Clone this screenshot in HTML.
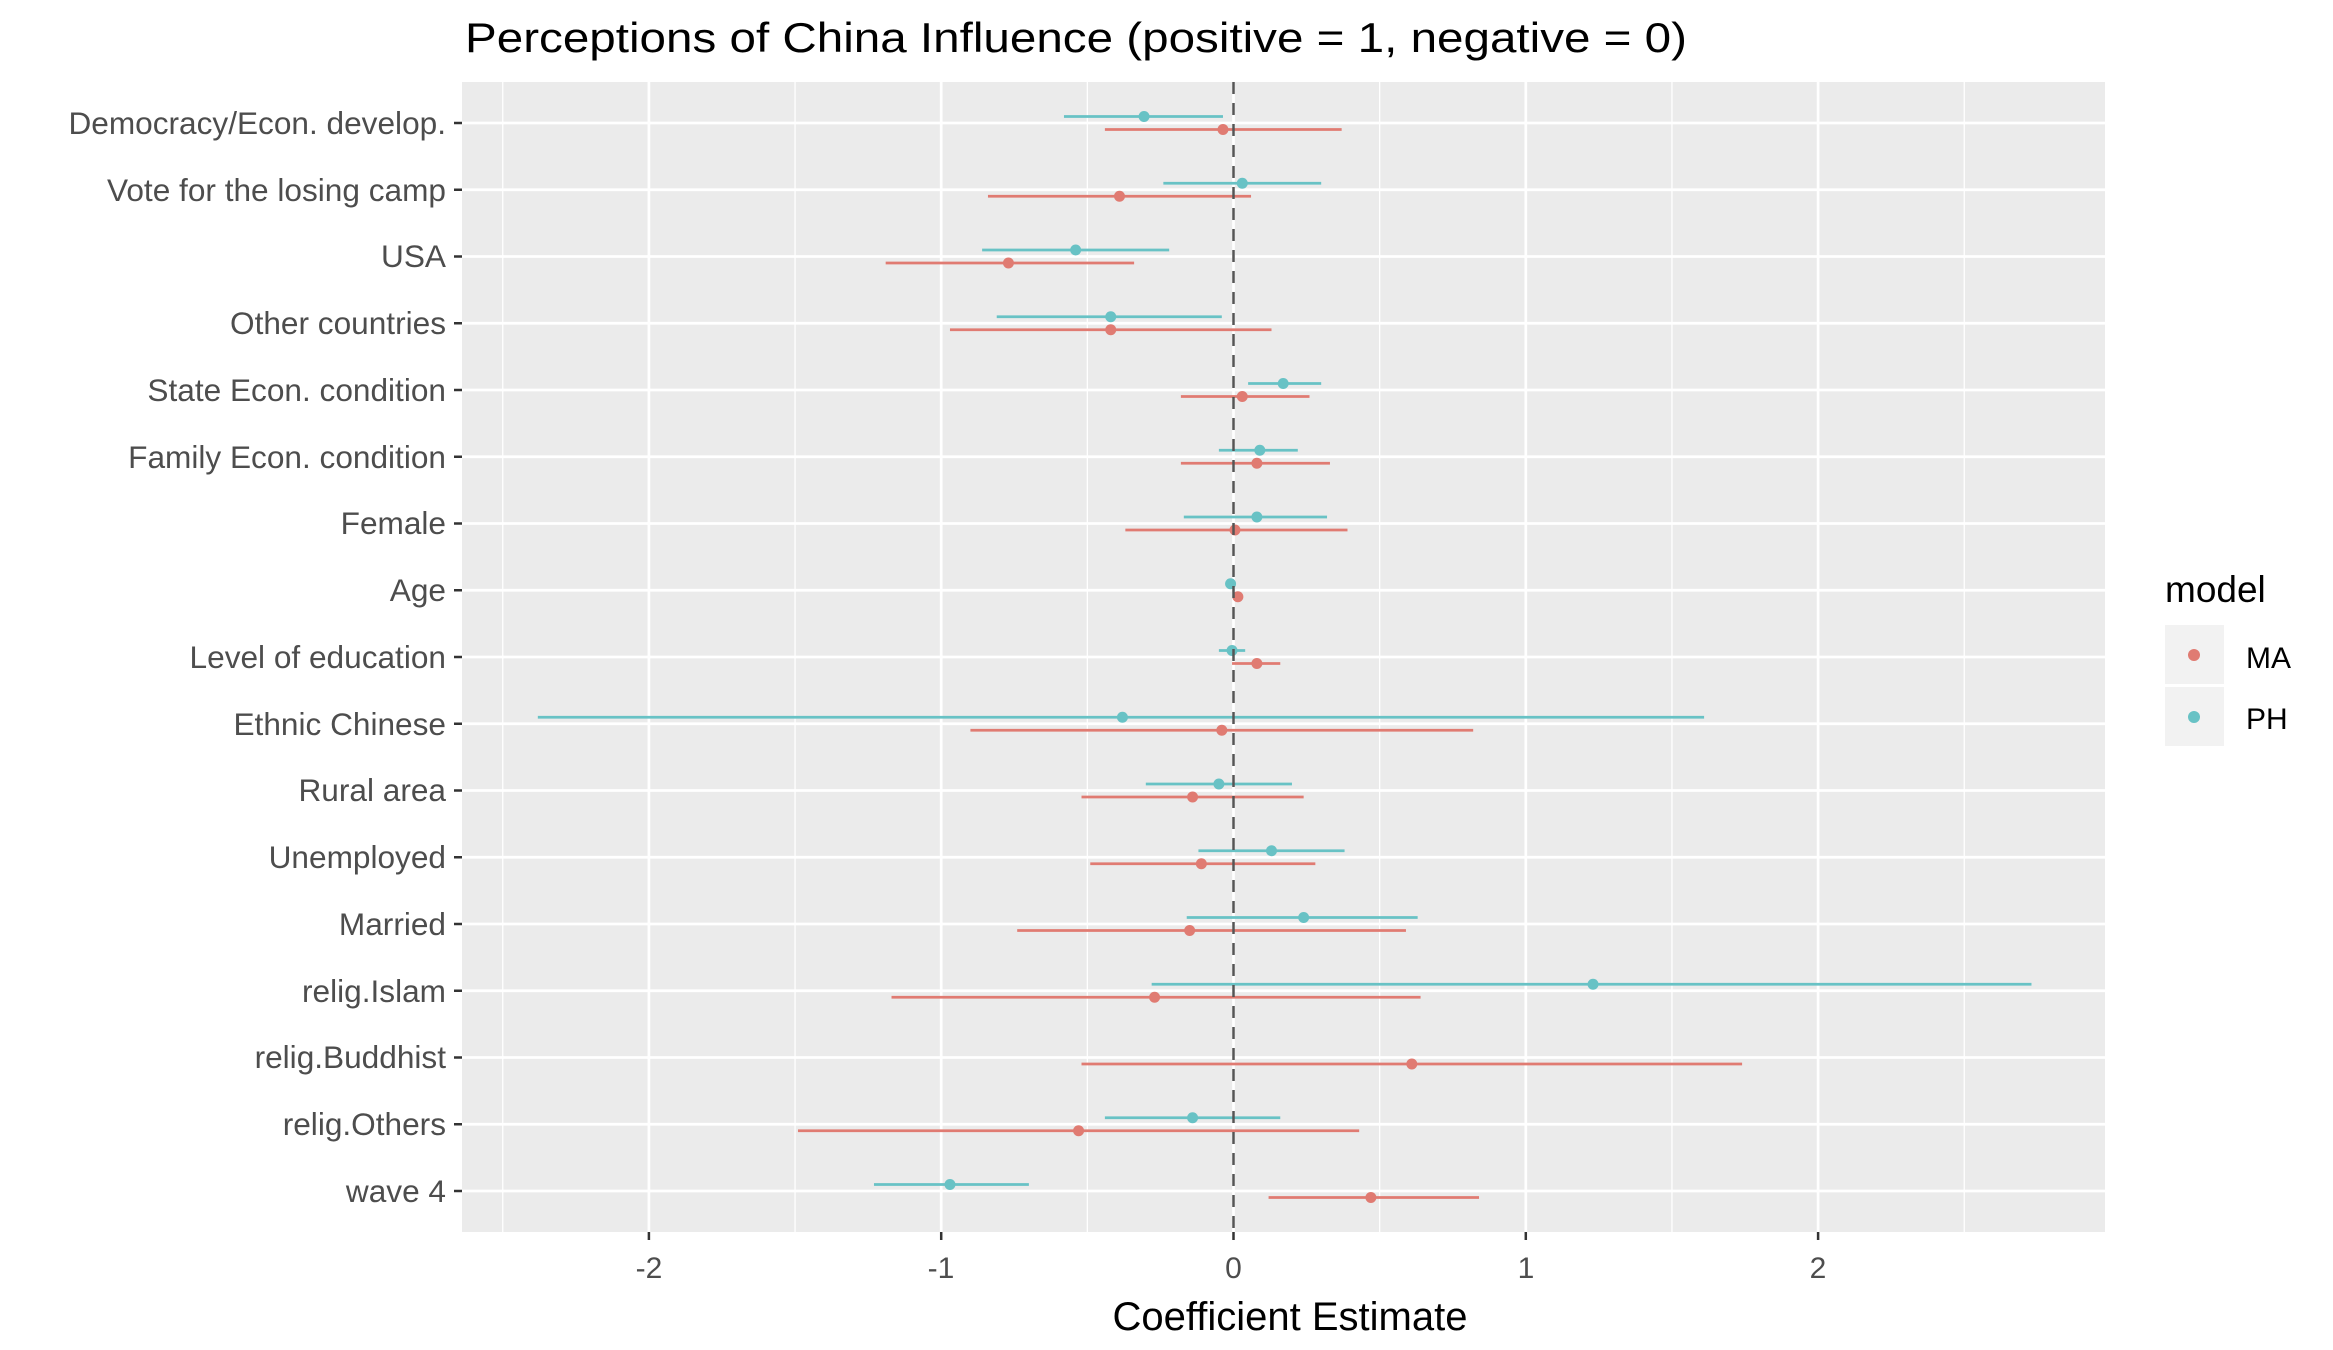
<!DOCTYPE html>
<html><head><meta charset="utf-8"><style>html,body{margin:0;padding:0;background:#fff}svg{display:block}</style></head>
<body>
<svg id="s" width="2333" height="1350" xmlns="http://www.w3.org/2000/svg" font-family="Liberation Sans, Arial, sans-serif">
<rect x="0" y="0" width="2333" height="1350" fill="#fff"/>
<rect x="462" y="82" width="1643" height="1150" fill="#ebebeb"/>
<g id="grid"></g>
<g id="data"></g>
<text x="465" y="52" font-size="42" fill="#000" textLength="1222" lengthAdjust="spacingAndGlyphs">Perceptions of China Influence (positive = 1, negative = 0)</text>
<g font-size="31.6" fill="#4d4d4d" text-anchor="end">
<text x="446" y="134">Democracy/Econ. develop.</text>
<text x="446" y="201">Vote for the losing camp</text>
<text x="446" y="267">USA</text>
<text x="446" y="334">Other countries</text>
<text x="446" y="401">State Econ. condition</text>
<text x="446" y="468">Family Econ. condition</text>
<text x="446" y="534">Female</text>
<text x="446" y="601">Age</text>
<text x="446" y="668">Level of education</text>
<text x="446" y="735">Ethnic Chinese</text>
<text x="446" y="801">Rural area</text>
<text x="446" y="868">Unemployed</text>
<text x="446" y="935">Married</text>
<text x="446" y="1002">relig.Islam</text>
<text x="446" y="1068">relig.Buddhist</text>
<text x="446" y="1135">relig.Others</text>
<text x="446" y="1202">wave 4</text>
</g>
<g font-size="30" fill="#4d4d4d" text-anchor="middle">
<text x="649" y="1278">-2</text>
<text x="941" y="1278">-1</text>
<text x="1233.5" y="1278">0</text>
<text x="1526" y="1278">1</text>
<text x="1818" y="1278">2</text>
</g>
<text x="1290" y="1330" font-size="40" fill="#000" text-anchor="middle">Coefficient Estimate</text>
<text x="2165" y="602" font-size="37" fill="#000">model</text>
<rect x="2165" y="625" width="59" height="59" fill="#f2f2f2"/>
<rect x="2165" y="687" width="59" height="59" fill="#f2f2f2"/>
<circle cx="2194" cy="655" r="6" fill="#e07b72"/>
<circle cx="2194" cy="717" r="6" fill="#68c2c5"/>
<text x="2246" y="668" font-size="30" fill="#000">MA</text>
<text x="2246" y="729" font-size="30" fill="#000">PH</text>
</svg>
<script>
var NS="http://www.w3.org/2000/svg";
function X(v){return 1233.5+v*292.3}
function Y(i){return 123+i*66.75}
function el(p,t,a){var e=document.createElementNS(NS,t);for(var k in a)e.setAttribute(k,a[k]);p.appendChild(e);return e}
var g=document.getElementById('grid');
[-2.5,-1.5,-0.5,0.5,1.5,2.5].forEach(function(v){el(g,'line',{x1:X(v),x2:X(v),y1:82,y2:1232,stroke:'#fff','stroke-width':1.3})});
[-2,-1,0,1,2].forEach(function(v){el(g,'line',{x1:X(v),x2:X(v),y1:82,y2:1232,stroke:'#fff','stroke-width':2.7});el(g,'line',{x1:X(v),x2:X(v),y1:1232,y2:1240,stroke:'#333','stroke-width':2.5})});
for(var i=0;i<17;i++){el(g,'line',{x1:462,x2:2105,y1:Y(i),y2:Y(i),stroke:'#fff','stroke-width':2.7});el(g,'line',{x1:454,x2:462,y1:Y(i),y2:Y(i),stroke:'#333','stroke-width':2.5})}
var PH=[[-0.306,-0.58,-0.036],[0.03,-0.24,0.30],[-0.54,-0.86,-0.22],[-0.42,-0.81,-0.04],[0.17,0.05,0.30],[0.09,-0.05,0.22],[0.08,-0.17,0.32],[-0.01,-0.02,0.0],[-0.005,-0.05,0.04],[-0.38,-2.38,1.61],[-0.05,-0.30,0.20],[0.13,-0.12,0.38],[0.24,-0.16,0.63],[1.23,-0.28,2.73],null,[-0.14,-0.44,0.16],[-0.97,-1.23,-0.70]];
var MA=[[-0.036,-0.44,0.37],[-0.39,-0.84,0.06],[-0.77,-1.19,-0.34],[-0.42,-0.97,0.13],[0.03,-0.18,0.26],[0.08,-0.18,0.33],[0.005,-0.37,0.39],[0.015,0.005,0.025],[0.08,-0.005,0.16],[-0.04,-0.90,0.82],[-0.14,-0.52,0.24],[-0.11,-0.49,0.28],[-0.15,-0.74,0.59],[-0.27,-1.17,0.64],[0.61,-0.52,1.74],[-0.53,-1.49,0.43],[0.47,0.12,0.84]];
var d=document.getElementById('data');
function ser(arr,c,off){arr.forEach(function(r,i){if(!r)return;var y=Y(i)+off;el(d,'line',{x1:X(r[1]),x2:X(r[2]),y1:y,y2:y,stroke:c,'stroke-width':2.8});el(d,'circle',{cx:X(r[0]),cy:y,r:5.5,fill:c})})}
ser(MA,'#e07b72',6.5);ser(PH,'#68c2c5',-6.5);
el(d,'line',{x1:X(0),x2:X(0),y1:82,y2:1232,stroke:'#555','stroke-width':2.5,'stroke-dasharray':'12,9'});
</script>
</body></html>
